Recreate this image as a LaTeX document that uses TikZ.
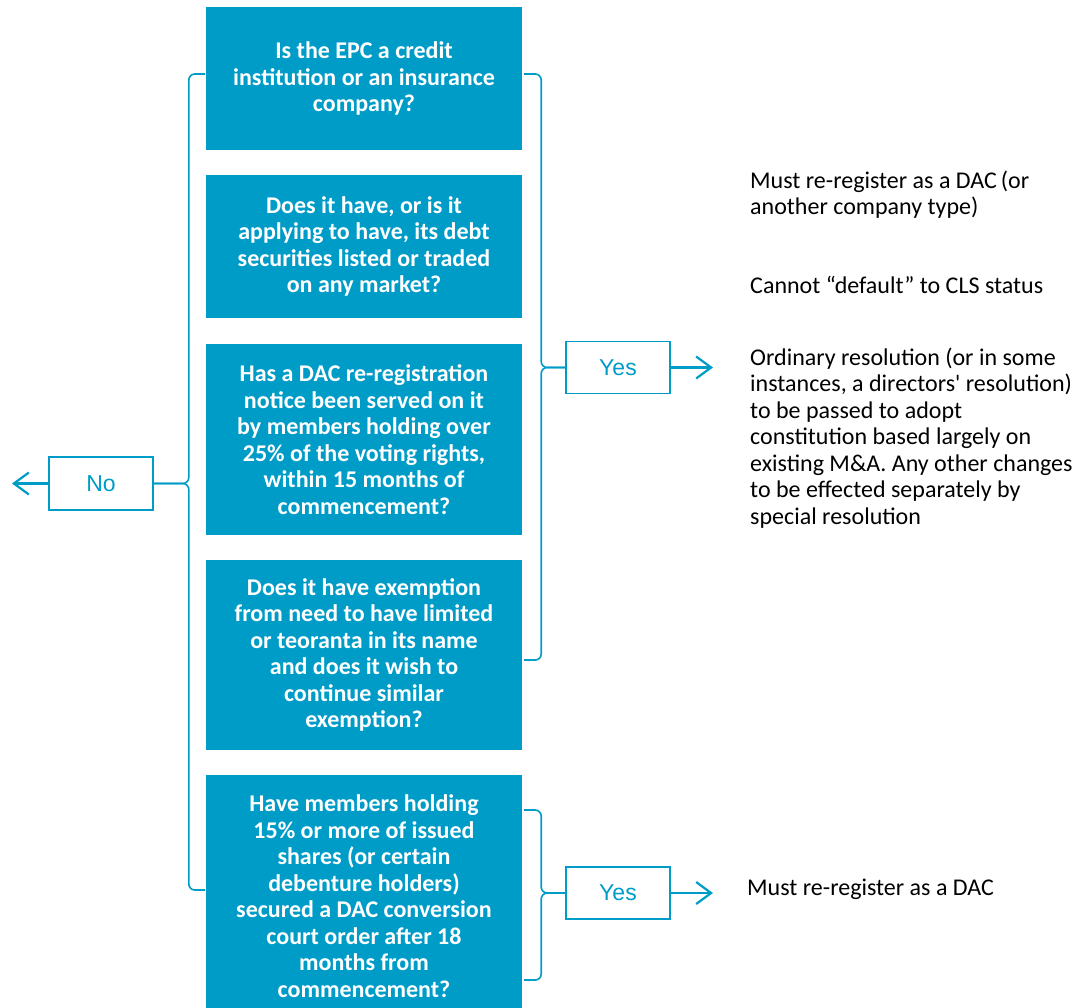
\documentclass[tikz,border=0pt]{standalone}
\usepackage{fontspec}
\setmainfont{Carlito}
\newfontfamily\arialfont{Liberation Sans}
\usetikzlibrary{arrows.meta,positioning,calc}
\definecolor{epcblue}{RGB}{0,156,200}

\begin{document}
\begin{tikzpicture}
      [x = 1pt, y = -1pt,
      question/.style= {
         fill = epcblue,
         text = white,
         font = \bfseries\fontsize{24}{26.5}\selectfont,
         align = center,
         minimum width = 316pt,
         inner sep = 0pt
      },
      answer/.style= {
         draw = epcblue,
         line width = 1.6pt,
         text = epcblue,
         font = \arialfont\fontsize{23}{27}\selectfont,
         minimum width = 104pt,
         minimum height = 52pt
      },
      outcome/.style= {
         align = left,
         anchor = north west,
         inner sep = 0pt,
         font = \fontsize{24}{26.5}\selectfont
      },
      brace/.style= {
         draw = epcblue,
         line width = 1.6pt,
         rounded corners = 6pt
      },
      flow/.style= {
         draw = epcblue,
         line width = 2.2pt,
         -{Straight Barb[length = 15pt, width = 22pt, line width = 2.2pt]}
      }]

      \useasboundingbox (0, 0) rectangle (1091, 1007);

      % questions
      \node[question, minimum height = 143pt] (q1) at (364, 78.5)
         {Is the EPC a credit\\institution or an insurance\\company?};
      \node[question, minimum height = 143pt] (q2) at (364, 246.5)
         {Does it have, or is it\\applying to have, its debt\\securities listed or traded\\on any market?};
      \node[question, minimum height = 191pt] (q3) at (364, 439.5)
         {Has a DAC re-registration\\notice been served on it\\by members holding over\\25\% of the voting rights,\\within 15 months of\\commencement?};
      \node[question, minimum height = 190pt] (q4) at (364, 655)
         {Does it have exemption\\from need to have limited\\or teoranta in its name\\and does it wish to\\continue similar\\exemption?};
      \node[question, minimum height = 242pt] (q5) at (364, 896)
         {Have members holding\\15\% or more of issued\\shares (or certain\\debenture holders)\\secured a DAC conversion\\court order after 18\\months from\\commencement?};

      % answers
      \node[answer] (yes1) at (618, 367.5) {Yes};
      \node[answer] (yes2) at (618, 893) {Yes};
      \node[answer, minimum height = 53pt] (no) at (101, 483.5) {No};

      % brace ends
      \coordinate (ra) at (524, 74);
      \coordinate (rb) at (524, 660);
      \coordinate (rc) at (524, 810);
      \coordinate (rd) at (524, 980);
      \coordinate (la) at (205, 74);
      \coordinate (lb) at (205, 890);

      \draw[brace] (ra) -| ([xshift = -24pt] yes1.west) -- (yes1.west);
      \draw[brace] (rb) -| ([xshift = -24pt] yes1.west) -- (yes1.west);
      \draw[brace] (rc) -| ([xshift = -24pt] yes2.west) -- (yes2.west);
      \draw[brace] (rd) -| ([xshift = -24pt] yes2.west) -- (yes2.west);
      \draw[brace] (la) -| ([xshift = 35pt] no.east) -- (no.east);
      \draw[brace] (lb) -| ([xshift = 35pt] no.east) -- (no.east);

      % arrows
      \coordinate (out1) at (713, 367.5);
      \coordinate (out2) at (713, 893);
      \coordinate (outno) at (12, 483.5);
      \draw[flow] (yes1.east) -- (out1);
      \draw[flow] (yes2.east) -- (out2);
      \draw[flow] (no.west) -- (outno);

      % outcomes
      \node[outcome] (t1) at (750, 170.5)
         {Must re-register as a DAC\,(or\\another company type)};
      \node[outcome] (t2) at (750, 276)
         {Cannot “default” to CLS status};
      \node[outcome] (t3) at (750, 347.5)
         {Ordinary resolution (or in some\\instances, a directors\textquotesingle{} resolution)\\to be passed to adopt\\constitution based largely on\\existing M\&A. Any other changes\\to be effected separately by\\special resolution};
      \node[outcome] (t4) at (747, 879)
         {Must re-register as a DAC};

   \end{tikzpicture}
\end{document}
